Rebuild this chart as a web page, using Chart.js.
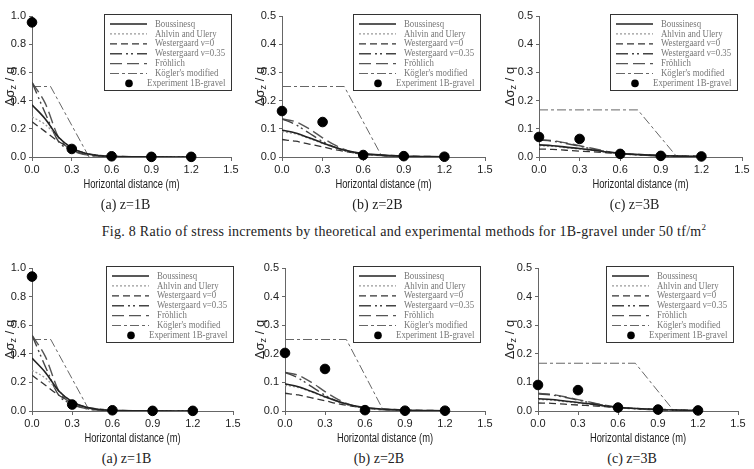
<!DOCTYPE html>
<html>
<head>
<meta charset="utf-8">
<script src="https://cdn.jsdelivr.net/npm/chart.js@4/dist/chart.umd.min.js"></script>
<style>
body { margin: 0; background: #fff; width: 754px; height: 469px; position: relative; overflow: hidden; }
.panel { position: absolute; }
.cap { position: absolute; font-family: "Liberation Serif", serif; font-size: 14px; color: #222; white-space: nowrap; transform: translateX(-50%); }
</style>
</head>
<body>

<script>
// legend names
const seriesNames = ['Boussinesq', 'Ahlvin and Ulery', 'Westergaard \u03BD=0', 'Westergaard \u03BD=0.35', 'Fr\u00F6hlich', 'K\u00F6gler\'s modified'];
const expName = 'Experiment 1B-gravel';

// horizontal distance (m)
const xCurve = [0, 0.1, 0.2, 0.3, 0.4, 0.5, 0.6, 0.9, 1.2];
const xExp = [0, 0.3, 0.6, 0.9, 1.2];

// z = 1B
const bous1 = [0.37, 0.27, 0.14, 0.065, 0.027, 0.011, 0.005, 0.001, 0];
const ahlvin1 = [0.285, 0.23, 0.14, 0.065, 0.027, 0.011, 0.005, 0.001, 0];
const west0_1 = [0.25, 0.18, 0.11, 0.06, 0.028, 0.013, 0.006, 0.001, 0];
const west35_1 = [0.53, 0.31, 0.11, 0.05, 0.02, 0.008, 0.003, 0, 0];
const frohlich1 = [0.53, 0.38, 0.14, 0.05, 0.017, 0.006, 0.002, 0, 0];
const koglerX1 = [0, 0.14, 0.43, 1.2];
const kogler1 = [0.5, 0.5, 0, 0];

// z = 2B
const bous2 = [0.095, 0.085, 0.068, 0.05, 0.033, 0.02, 0.012, 0.003, 0.001];
const ahlvin2 = [0.09, 0.082, 0.066, 0.048, 0.032, 0.02, 0.012, 0.003, 0.001];
const west0_2 = [0.062, 0.056, 0.046, 0.036, 0.025, 0.017, 0.011, 0.004, 0.001];
const west35_2 = [0.135, 0.115, 0.085, 0.055, 0.033, 0.018, 0.01, 0.002, 0];
const frohlich2 = [0.135, 0.125, 0.1, 0.068, 0.04, 0.02, 0.01, 0.002, 0];
const koglerX2 = [0, 0.46, 0.74, 1.2];
const kogler2 = [0.25, 0.25, 0, 0];

// z = 3B
const bous3 = [0.043, 0.04, 0.035, 0.03, 0.024, 0.018, 0.013, 0.005, 0.002];
const ahlvin3 = [0.04, 0.038, 0.033, 0.028, 0.023, 0.017, 0.013, 0.005, 0.002];
const west0_3 = [0.028, 0.027, 0.024, 0.021, 0.018, 0.015, 0.012, 0.006, 0.003];
const west35_3 = [0.06, 0.056, 0.048, 0.038, 0.028, 0.019, 0.012, 0.004, 0.001];
const frohlich3 = [0.062, 0.058, 0.05, 0.04, 0.03, 0.02, 0.013, 0.004, 0.001];
const koglerX3 = [0, 0.73, 1.02, 1.2];
const kogler3 = [0.167, 0.167, 0, 0];

// experiment, upper figure
const expTop1 = [0.955, 0.057, 0.005, 0.001, 0.001];
const expTop2 = [0.163, 0.124, 0.007, 0.003, 0.001];
const expTop3 = [0.071, 0.064, 0.011, 0.004, 0.002];
// experiment, lower figure
const expBot1 = [0.94, 0.045, 0.005, 0.001, 0.001];
const expBot2 = [0.203, 0.147, 0.003, 0.001, 0.001];
const expBot3 = [0.091, 0.073, 0.012, 0.005, 0.002];

const xTicks = [0, 0.3, 0.6, 0.9, 1.2, 1.5];
const yMaxes = [1.0, 0.5, 0.5];
const yStepSizes = [0.2, 0.1, 0.1];
const captions = ['(a)  z=1B', '(b)  z=2B', '(c)  z=3B'];
const figCaption = 'Fig. 8 Ratio of stress increments by theoretical and experimental methods for 1B-gravel under 50 tf/m';

const lineStyles = [
    { color: '#222', width: 1.6, dash: [] },
    { color: '#999', width: 1.3, dash: [2, 2] },
    { color: '#333', width: 1.3, dash: [7, 4] },
    { color: '#444', width: 1.4, dash: [12, 4, 2, 3, 2, 4] },
    { color: '#555', width: 1.4, dash: [12, 5] },
    { color: '#666', width: 1.0, dash: [9, 3, 3, 3] }
];

// canvas box and plot area of each panel
const panels = [
    { left: 0,   top: 0,   w: 250, h: 200, pl: 32,  pr: 231, pt: 16,  pb: 157, legOff: 0 },
    { left: 250, top: 0,   w: 250, h: 200, pl: 282, pr: 485, pt: 16,  pb: 157, legOff: 5 },
    { left: 500, top: 0,   w: 254, h: 200, pl: 539, pr: 742, pt: 16,  pb: 157, legOff: 5 },
    { left: 0,   top: 250, w: 250, h: 200, pl: 32,  pr: 233, pt: 268, pb: 411, legOff: 0 },
    { left: 250, top: 250, w: 250, h: 200, pl: 285, pr: 485, pt: 268, pb: 411, legOff: 5 },
    { left: 500, top: 250, w: 254, h: 200, pl: 538, pr: 738, pt: 268, pb: 411, legOff: 5 }
];

const curveSets = [
    [bous1, ahlvin1, west0_1, west35_1, frohlich1, kogler1],
    [bous2, ahlvin2, west0_2, west35_2, frohlich2, kogler2],
    [bous3, ahlvin3, west0_3, west35_3, frohlich3, kogler3]
];
const koglerXs = [koglerX1, koglerX2, koglerX3];
const expSets = [expTop1, expTop2, expTop3, expBot1, expBot2, expBot3];

function narrowText(ctx, text, x, y, sx) {
    ctx.save();
    ctx.translate(x, y);
    ctx.scale(sx, 1);
    ctx.fillText(text, 0, 0);
    ctx.restore();
}

const decorPlugin = {
    id: 'decor',
    afterDraw(chart) {
        const ctx = chart.ctx;
        const ca = chart.chartArea;
        const off = chart.options.plugins.decor.legOff;
        ctx.save();

        // legend box
        const lw = 127, lh = 76;
        const lx = Math.round(ca.right - off - lw), ly = Math.round(ca.top - 2);
        ctx.fillStyle = '#fff';
        ctx.fillRect(lx, ly, lw, lh);
        ctx.strokeStyle = '#333';
        ctx.lineWidth = 1;
        ctx.setLineDash([]);
        ctx.strokeRect(lx + 0.5, ly + 0.5, lw, lh);
        ctx.font = '10px "Liberation Serif", serif';
        ctx.textBaseline = 'middle';
        ctx.textAlign = 'left';
        for (let i = 0; i < 7; i++) {
            const yy = ly + 10 + i * 9.9;
            if (i < 6) {
                const st = lineStyles[i];
                ctx.strokeStyle = st.color;
                ctx.lineWidth = st.width;
                ctx.setLineDash(st.dash);
                ctx.beginPath();
                ctx.moveTo(lx + 6, yy);
                ctx.lineTo(lx + 43, yy);
                ctx.stroke();
                ctx.fillStyle = '#777';
                narrowText(ctx, seriesNames[i], lx + 51, yy, 0.88);
            } else {
                ctx.fillStyle = '#000';
                ctx.beginPath();
                ctx.arc(lx + 25, yy, 3.8, 0, Math.PI * 2);
                ctx.fill();
                ctx.fillStyle = '#777';
                narrowText(ctx, expName, lx + 43, yy, 0.88);
            }
        }

        // x axis title, narrow
        ctx.setLineDash([]);
        ctx.fillStyle = '#222';
        ctx.font = '12px "Liberation Sans", Arial, sans-serif';
        ctx.textAlign = 'center';
        narrowText(ctx, 'Horizontal distance (m)', (ca.left + ca.right) / 2, ca.bottom + 28, 0.78);

        // y axis title with subscript
        ctx.save();
        ctx.translate(10, (ca.top + ca.bottom) / 2);
        ctx.rotate(-Math.PI / 2);
        ctx.textAlign = 'left';
        const big = '13px "Liberation Sans", Arial, sans-serif';
        const small = '9px "Liberation Sans", Arial, sans-serif';
        ctx.font = big;
        const w1 = ctx.measureText('\u0394\u03C3').width;
        const w3 = ctx.measureText(' / q').width;
        ctx.font = small;
        const w2 = ctx.measureText('z').width;
        const x0 = -(w1 + w2 + w3) / 2;
        ctx.font = big;
        ctx.fillText('\u0394\u03C3', x0, 0);
        ctx.font = small;
        ctx.fillText('z', x0 + w1, 4);
        ctx.font = big;
        ctx.fillText(' / q', x0 + w1 + w2, 0);
        ctx.restore();

        ctx.restore();
    }
};

panels.forEach((p, idx) => {
    const col = idx % 3;
    const div = document.createElement('div');
    div.className = 'panel';
    div.style.left = p.left + 'px';
    div.style.top = p.top + 'px';
    div.style.width = p.w + 'px';
    div.style.height = p.h + 'px';
    const canvas = document.createElement('canvas');
    div.appendChild(canvas);
    document.body.appendChild(div);

    const curves = curveSets[col];
    const datasets = curves.map((vals, i) => {
        const xs = i === 5 ? koglerXs[col] : xCurve;
        const st = lineStyles[i];
        return {
            label: seriesNames[i],
            data: xs.map((x, k) => ({ x: x, y: vals[k] })),
            showLine: true,
            borderColor: st.color,
            borderWidth: st.width,
            borderDash: st.dash,
            pointRadius: 0,
            fill: false,
            cubicInterpolationMode: i === 5 ? 'default' : 'monotone',
            order: 2
        };
    });
    datasets.push({
        label: expName,
        data: xExp.map((x, k) => ({ x: x, y: expSets[idx][k] })),
        showLine: false,
        pointRadius: 4.8,
        pointBackgroundColor: '#000',
        pointBorderColor: '#000',
        clip: false,
        order: 1
    });

    const yAxisW = p.pl - p.left;
    const xAxisH = 20;
    new Chart(canvas, {
        type: 'scatter',
        data: { datasets: datasets },
        options: {
            responsive: true,
            maintainAspectRatio: false,
            animation: false,
            events: [],
            layout: {
                padding: {
                    left: 0,
                    top: p.pt - p.top,
                    right: p.left + p.w - p.pr,
                    bottom: p.top + p.h - p.pb - xAxisH
                }
            },
            plugins: {
                legend: { display: false },
                tooltip: { enabled: false },
                decor: { legOff: p.legOff }
            },
            scales: {
                x: {
                    type: 'linear',
                    min: 0,
                    max: 1.5,
                    afterBuildTicks: (s) => { s.ticks = xTicks.map(v => ({ value: v })); },
                    afterFit: (s) => { s.height = xAxisH; },
                    ticks: {
                        callback: (v) => v.toFixed(1),
                        color: '#222',
                        font: { family: '"Liberation Sans", Arial, sans-serif', size: 11 },
                        padding: 2,
                        maxRotation: 0
                    },
                    grid: { drawOnChartArea: false, drawTicks: true, tickLength: 4, color: '#666' },
                    border: { color: '#666', width: 1 }
                },
                y: {
                    min: 0,
                    max: yMaxes[col],
                    ticks: {
                        stepSize: yStepSizes[col],
                        callback: (v) => v.toFixed(1),
                        color: '#222',
                        font: { family: '"Liberation Sans", Arial, sans-serif', size: 11 },
                        padding: 3
                    },
                    afterFit: (s) => { s.width = yAxisW; },
                    grid: { drawOnChartArea: false, drawTicks: true, tickLength: 3, color: '#666' },
                    border: { color: '#666', width: 1 }
                }
            }
        },
        plugins: [decorPlugin]
    });

    const cap = document.createElement('div');
    cap.className = 'cap';
    cap.textContent = captions[col];
    cap.style.left = ((p.pl + p.pr) / 2 - 6) + 'px';
    cap.style.top = (p.pb + 40) + 'px';
    document.body.appendChild(cap);
});

const fig = document.createElement('div');
fig.className = 'cap';
fig.style.left = '404px';
fig.style.top = '222px';
fig.style.letterSpacing = '0.28px';
fig.innerHTML = figCaption + '<sup style="font-size:9px">2</sup>';
document.body.appendChild(fig);
</script>
</body>
</html>
